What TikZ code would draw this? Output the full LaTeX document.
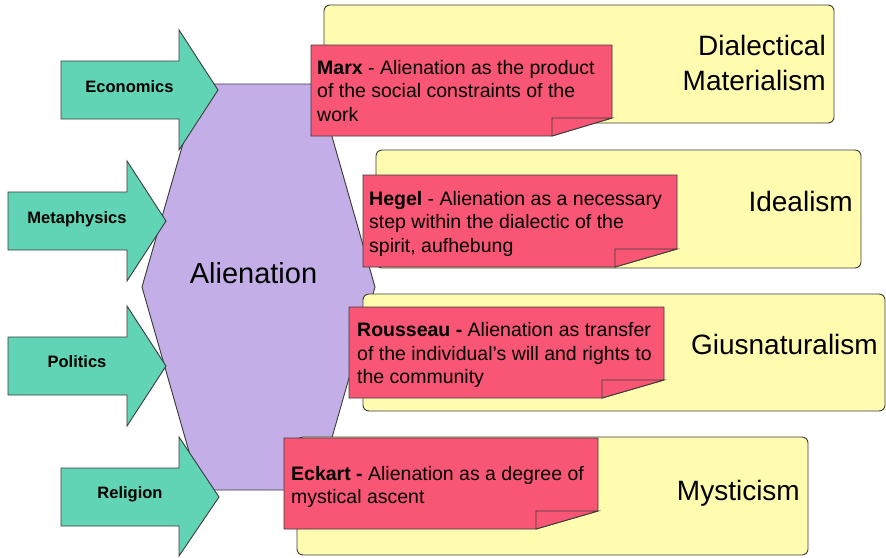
\documentclass[tikz,border=0pt]{standalone}
\usepackage{fontspec}
\setmainfont{Liberation Sans}
\usepackage{xcolor}
\usepackage{tikz}
\usetikzlibrary{calc, positioning}
\definecolor{flowgreen}{RGB}{96,212,180}
\definecolor{hexlilac}{RGB}{195,174,232}
\definecolor{notepink}{RGB}{248,86,116}
\definecolor{boxyellow}{RGB}{255,252,175}
\definecolor{edgegray}{RGB}{60,60,60}

\begin{document}
\begin{tikzpicture}[x=1pt, y=-1pt,
  inflow/.style={draw=edgegray, fill=flowgreen, line width=0.9pt, line join=miter},
  flowlbl/.style={font=\fontsize{16.5}{19}\selectfont\bfseries, anchor=base, inner sep=0},
  core/.style={draw=edgegray, fill=hexlilac, line width=0.9pt},
  school/.style={rectangle, draw=edgegray, fill=boxyellow, rounded corners=6pt, line width=0.9pt},
  schoollbl/.style={font=\fontsize{28}{35.5}\selectfont, align=right, inner sep=0},
  postit/.style={draw=edgegray, fill=notepink, line width=0.9pt, line join=miter},
  postitlbl/.style={font=\fontsize{19.5}{23.5}\selectfont, align=left, anchor=north west, inner sep=0},
]
  \useasboundingbox (0,0) rectangle (886,557);

  % central hexagon
  \draw[core] (200,84) -- (317,84) -- (375,287) -- (317,490) -- (200,490) -- (142,287) -- cycle;
  \node[font=\fontsize{29}{33}\selectfont, anchor=base, inner sep=0] (alien) at (253.5,283) {Alienation};

  % incoming arrows
  \draw[inflow] (61,61) -- (179,61) -- (179,30) -- (218,90) -- (179,150) -- (179,119) -- (61,119) -- cycle;
  \draw[inflow] (8,192) -- (127,192) -- (127,161) -- (166,221) -- (127,281) -- (127,250) -- (8,250) -- cycle;
  \draw[inflow] (8,337) -- (127,337) -- (127,306) -- (166,366) -- (127,426) -- (127,395) -- (8,395) -- cycle;
  \draw[inflow] (61,468) -- (179,468) -- (179,437) -- (219,497) -- (179,556) -- (179,526) -- (61,526) -- cycle;
  \node[flowlbl] (econ) at (129.5,92)  {Economics};
  \node[flowlbl] (meta) at (77,223)    {Metaphysics};
  \node[flowlbl] (poli) at (77,367)    {Politics};
  \node[flowlbl] (reli) at (130,498)   {Religion};

  % schools of thought
  \node[school, minimum width=510pt, minimum height=118pt] (dm)  at (579,64)    {};
  \node[school, minimum width=485pt, minimum height=118pt] (ide) at (618.5,209)  {};
  \node[school, minimum width=522pt, minimum height=117pt] (giu) at (624,352.5)  {};
  \node[school, minimum width=511pt, minimum height=118pt] (mys) at (552.5,496)  {};
  \node[schoollbl, anchor=north east] (dmlbl) at (826,35) {Dialectical\\Materialism};
  \node[schoollbl, anchor=base east] (idelbl) at (853,211) {Idealism};
  \node[schoollbl, anchor=base east] (giulbl) at (878,354) {Giusnaturalism};
  \node[schoollbl, anchor=base east] (myslbl) at (800,500) {Mysticism};

  % authors (folded notes)
  \draw[postit] (311,45) -- (612,45) -- (612,118) -- (552,136) -- (311,136) -- cycle;
  \draw[postit] (552,118) -- (612,118) -- (552,136) -- cycle;
  \draw[postit] (363,175) -- (677,175) -- (677,249) -- (615,267) -- (363,267) -- cycle;
  \draw[postit] (615,249) -- (677,249) -- (615,267) -- cycle;
  \draw[postit] (349,307) -- (664,307) -- (664,380) -- (602,398) -- (349,398) -- cycle;
  \draw[postit] (602,380) -- (664,380) -- (602,398) -- cycle;
  \draw[postit] (284,438) -- (598,438) -- (598,511) -- (536,529) -- (284,529) -- cycle;
  \draw[postit] (536,511) -- (598,511) -- (536,529) -- cycle;

  \node[postitlbl] (marx) at (317,59.7)  {\textbf{Marx} - Alienation as the product\\of the social constraints of the\\work};
  \node[postitlbl] (hegel) at (369,190.7) {\textbf{Hegel} - Alienation as a necessary\\step within the dialectic of the\\spirit, aufhebung};
  \node[postitlbl] (rous) at (357,322.4) {\textbf{Rousseau -} Alienation as transfer\\of the individual's will and rights to\\the community};
  \node[postitlbl] (eck) at (291,465.7)  {\textbf{Eckart -} Alienation as a degree of\\mystical ascent};
\end{tikzpicture}
\end{document}
